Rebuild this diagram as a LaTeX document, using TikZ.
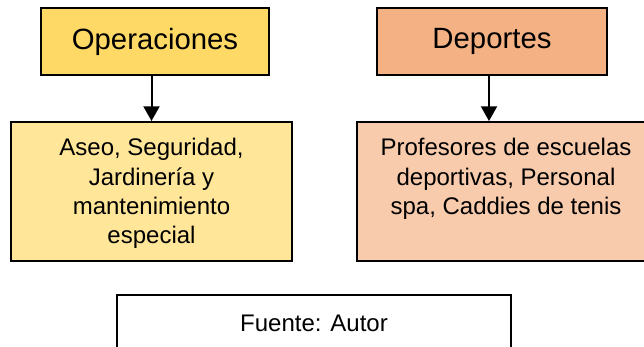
\documentclass[tikz,border=0pt]{standalone}
\usepackage{fontspec}
\setmainfont{Liberation Sans}
\usetikzlibrary{positioning,arrows.meta}
\definecolor{opsgold}{HTML}{FFD966}
\definecolor{opslight}{HTML}{FFE699}
\definecolor{depsalmon}{HTML}{F4B183}
\definecolor{deplight}{HTML}{F8CBAD}

\begin{document}
\begin{tikzpicture}[x=0.75pt, y=-0.75pt,
    headbox/.style={draw, line width=1.5pt, minimum height=50.25pt, inner sep=0pt, font=\fontsize{22}{26}\selectfont},
    listbox/.style={draw, line width=1.5pt, minimum height=104.25pt, inner sep=0pt},
    listtext/.style={anchor=north, inner sep=0pt, align=center, font=\fontsize{18}{22}\selectfont},
    flow/.style={line width=1.5pt, -{Triangle[length=11pt, width=12pt]}}]
    \useasboundingbox (0,0) rectangle (644,347);

    \node [headbox, fill=opsgold, minimum width=171pt] (ops) at (155,41.5) {Operaciones};
    \node [headbox, fill=depsalmon, minimum width=172.5pt] (dep) at (492,41.5) {Deportes};

    \node [listbox, fill=opslight, minimum width=210.75pt] (opslist) at (151.5,191.5) {};
    \node [listbox, fill=deplight, minimum width=223.5pt] (deplist) at (506,191.5) {};

    \node [listtext, below=13pt of opslist.north] (opstext) {Aseo, Seguridad,\\Jardinería y\\mantenimiento\\especial};
    \node [listtext, below=13pt of deplist.north] (deptext) {Profesores de escuelas\\deportivas, Personal\\spa, Caddies de tenis};

    \coordinate (depdrop) at (489,0);

    \draw [flow] (ops.south -| opslist.north) -- (opslist.north);
    \draw [flow] (dep.south -| depdrop) -- (deplist.north -| depdrop);

    \node [draw, line width=1.5pt, minimum width=295.5pt, minimum height=42pt, font=\fontsize{18}{22}\selectfont] (source) at (314,323) {Fuente: Autor};
\end{tikzpicture}
\end{document}
